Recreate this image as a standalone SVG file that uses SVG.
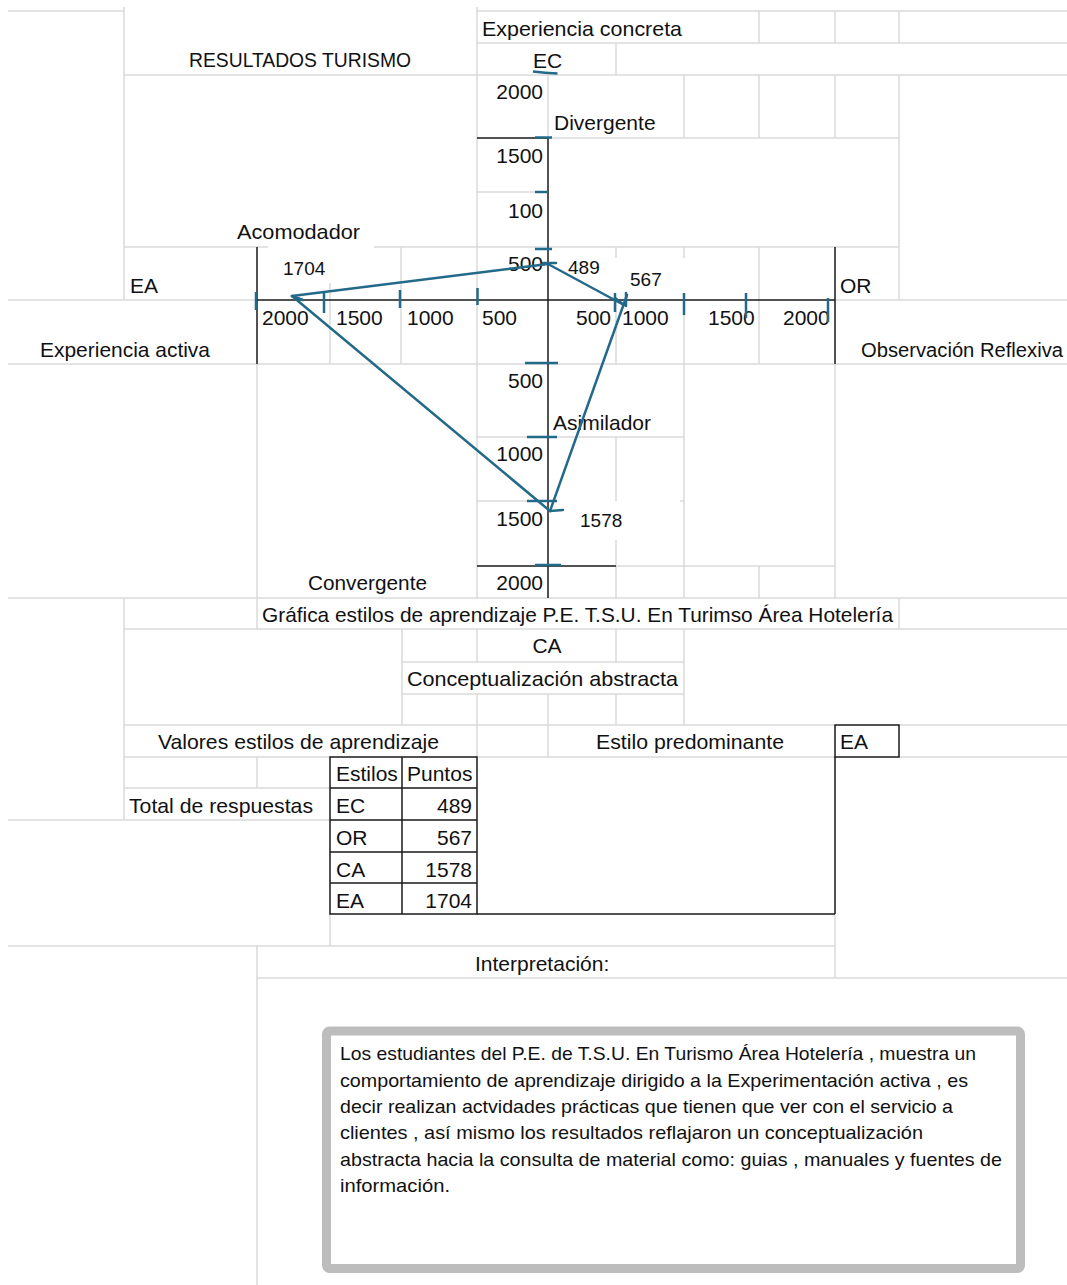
<svg xmlns="http://www.w3.org/2000/svg" width="1067" height="1285" viewBox="0 0 1067 1285">
  <style>
    .grid { fill: none; stroke: #dadada; stroke-width: 1.5; }
    .bd { fill: none; stroke: #1a1a1a; stroke-width: 1.5; }
    .tl { fill: none; stroke: #23698a; stroke-width: 2.5; stroke-linecap: round; }
    .tk { fill: none; stroke: #23698a; stroke-width: 2.5; }
    text { font-family: "Liberation Sans", Arial, sans-serif; font-size: 21px; fill: #111; }
    .lbl { font-size: 19px; }
    .r { text-anchor: end; }
    .c { text-anchor: middle; }
    .note { font-size: 19px; }
  </style>

  <rect width="1067" height="1285" fill="#ffffff"/>

  <!-- sheet gridlines -->
  <g id="grid">
    <path class="grid" d="
      M8 11H124 M477 11H1067
      M477 43H1067
      M124 75H1067
      M548 138H899
      M477 192H548
      M124 247H268 M374 247H899
      M8 300H257 M835 300H1067
      M8 364H1067
      M477 437H684
      M477 501H556 M680 501H684
      M616 566H835
      M8 598H1067
      M124 629H1067
      M402 662H684
      M402 694H684
      M124 725H835 M899 725H1067
      M124 757H330 M477 757H835 M899 757H1067
      M124 788H330
      M8 820H330
      M8 946H835
      M257 978H1067
      M124 7V300 M124 598V820
      M257 364V629 M257 757V788 M257 946V1285
      M330 283V364 M330 914V946
      M401 247V364 M402 629V725
      M477 7V138 M477 138V598 M477 629V662 M477 694V757
      M548 75V138 M548 694V757
      M616 43V75 M616 247V258 M616 300V364 M616 437V501 M616 540V598 M616 629V662 M616 694V725
      M684 75V138 M684 247V258 M684 300V598 M684 629V725
      M759 11V43 M759 75V138 M759 247V364 M759 566V598
      M835 11V43 M835 75V138 M835 364V598 M835 914V978
      M899 11V43 M899 75V300 M899 598V629"/>
  </g>

  <!-- chart frame and table borders -->
  <g id="borders">
    <path class="bd" d="
      M257 300H835
      M477 138H548
      M477 566H616
      M548 138V598
      M257 247V364
      M835 247V364
      M835 757V914 M477 914H835"/>
    <rect class="bd" x="835" y="725" width="64" height="32"/>
    <path class="bd" d="M330 757H477V914H330Z M402 757V914 M330 788H477 M330 820H477 M330 852H477 M330 883H477"/>
  </g>

  <!-- header -->
  <g id="title">
    <text x="189" y="67" textLength="222" lengthAdjust="spacingAndGlyphs">RESULTADOS TURISMO</text>
  </g>
  <g id="axis-ec">
    <text x="482" y="36" textLength="200" lengthAdjust="spacingAndGlyphs">Experiencia concreta</text>
    <text x="533" y="67.5">EC</text>
    <path class="tk" d="M533 71.5Q545 73 557.5 73.5"/>
  </g>

  <!-- axis scale labels -->
  <g id="scale-labels">
    <text class="r" x="543" y="99">2000</text>
    <text class="r" x="543" y="163">1500</text>
    <text class="r" x="543" y="218">100</text>
    <text class="r" x="543" y="271">500</text>
    <text x="262" y="325">2000</text>
    <text x="336" y="325">1500</text>
    <text x="407" y="325">1000</text>
    <text x="482" y="325">500</text>
    <text x="576" y="325">500</text>
    <text x="622" y="325">1000</text>
    <text x="708" y="325">1500</text>
    <text x="783" y="325">2000</text>
    <text class="r" x="543" y="388">500</text>
    <text class="r" x="543" y="461">1000</text>
    <text class="r" x="543" y="526">1500</text>
    <text class="r" x="543" y="590">2000</text>
  </g>

  <!-- quadrant names -->
  <g id="quadrants">
    <text x="554" y="130">Divergente</text>
    <text x="237" y="239" textLength="123" lengthAdjust="spacingAndGlyphs">Acomodador</text>
    <text x="553" y="430">Asimilador</text>
    <text x="308" y="590" textLength="119" lengthAdjust="spacingAndGlyphs">Convergente</text>
  </g>

  <!-- axis ends -->
  <g id="axis-ea">
    <text x="130" y="293">EA</text>
    <text x="40" y="357" textLength="170" lengthAdjust="spacingAndGlyphs">Experiencia activa</text>
  </g>
  <g id="axis-or">
    <text x="840" y="293">OR</text>
    <text x="861" y="357" style="font-size:20px" textLength="202" lengthAdjust="spacingAndGlyphs">Observación Reflexiva</text>
  </g>
  <g id="axis-ca">
    <text class="c" x="547" y="653">CA</text>
    <text x="407" y="686" textLength="271" lengthAdjust="spacingAndGlyphs">Conceptualización abstracta</text>
  </g>

  <!-- point values -->
  <g id="point-ec"><text class="lbl" x="568" y="274">489</text></g>
  <g id="point-or"><text class="lbl" x="630" y="286">567</text></g>
  <g id="point-ea"><text class="lbl" x="283" y="275">1704</text></g>
  <g id="point-ca"><text class="lbl" x="580" y="527">1578</text></g>

  <!-- tick marks on both axes -->
  <g id="ticks">
    <path class="tk" d="
      M256 292V310 M324 293V313 M400 290V308 M477.5 288V305
      M615 293V312 M684 293V315 M746 293V318 M828 298V322
      M535 137.5H552 M535 192H548 M535 249H552
      M525 363H558 M527 437H557 M527 501H557 M535 565H561"/>
  </g>

  <!-- style profile polygon -->
  <g id="connectors">
    <path class="tl" d="M292 296L548 264"/>
    <path class="tl" d="M548 264L622 304"/>
    <path class="tl" d="M627 295L550 511"/>
    <path class="tl" d="M550 511L292 296"/>
    <path class="tl" d="M543 263H556 M550 511L563 510 M292 296L303 300 M626 293V306 M615 298L624 305"/>
  </g>

  <!-- table of values -->
  <g id="values">
    <text x="158" y="749" textLength="281" lengthAdjust="spacingAndGlyphs">Valores estilos de aprendizaje</text>
    <text x="129" y="813" textLength="184" lengthAdjust="spacingAndGlyphs">Total de respuestas</text>
    <text x="336" y="781">Estilos</text>
    <text x="407" y="781">Puntos</text>
    <text x="336" y="813">EC</text><text class="r" x="472" y="813">489</text>
    <text x="336" y="845">OR</text><text class="r" x="472" y="845">567</text>
    <text x="336" y="877">CA</text><text class="r" x="472" y="877">1578</text>
    <text x="336" y="908">EA</text><text class="r" x="472" y="908">1704</text>
  </g>

  <g id="chart-caption">
    <text x="262" y="622" textLength="631" lengthAdjust="spacingAndGlyphs">Gráfica estilos de aprendizaje P.E. T.S.U. En Turimso Área Hotelería</text>
  </g>

  <g id="predominant">
    <text x="596" y="749" textLength="188" lengthAdjust="spacingAndGlyphs">Estilo predominante</text>
    <text x="840" y="749">EA</text>
  </g>

  <!-- interpretation -->
  <g id="interpretation">
    <text x="475" y="971">Interpretación:</text>
    <rect x="326.5" y="1031" width="694" height="237.5" rx="3" fill="#ffffff" stroke="#bdbdbd" stroke-width="9"/>
    <text class="note" x="340" y="1060" textLength="636" lengthAdjust="spacingAndGlyphs">Los estudiantes del P.E. de T.S.U. En Turismo Área Hotelería , muestra un</text>
    <text class="note" x="340" y="1086.5" textLength="628" lengthAdjust="spacingAndGlyphs">comportamiento de aprendizaje dirigido a la Experimentación activa , es</text>
    <text class="note" x="340" y="1113" textLength="613" lengthAdjust="spacingAndGlyphs">decir realizan actvidades prácticas que tienen que ver con el servicio a</text>
    <text class="note" x="340" y="1139" textLength="583" lengthAdjust="spacingAndGlyphs">clientes , así mismo los resultados reflajaron un conceptualización</text>
    <text class="note" x="340" y="1165.5" textLength="662" lengthAdjust="spacingAndGlyphs">abstracta hacia la consulta de material como: guias , manuales y fuentes de</text>
    <text class="note" x="340" y="1192" textLength="110" lengthAdjust="spacingAndGlyphs">información.</text>
  </g>
</svg>
